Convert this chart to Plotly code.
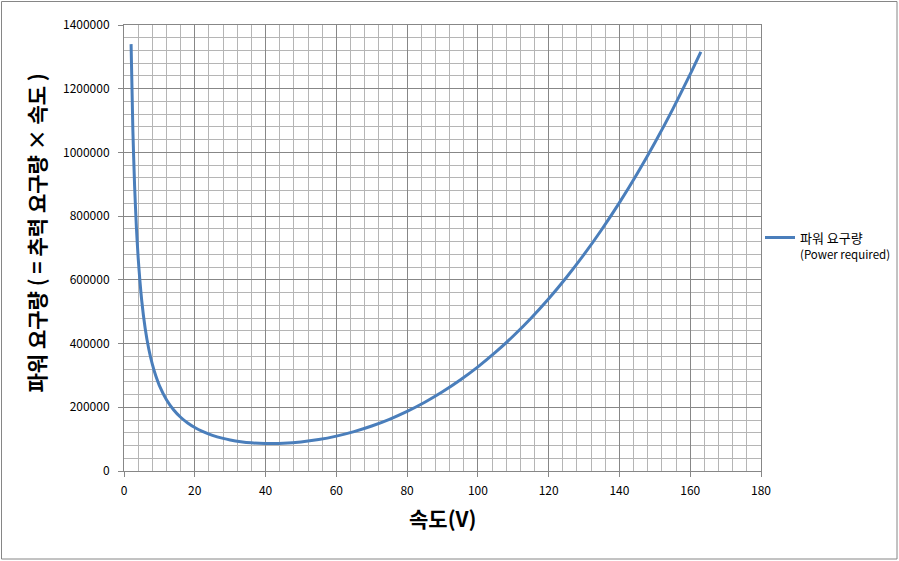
import plotly.graph_objects as go

# Data
speed = [2, 2.5, 3, 3.5, 4, 5, 6, 7, 8, 9, 10, 12, 14, 16, 18, 20, 22, 25, 28, 30,
         33, 36, 40, 42, 45, 50, 55, 60, 65, 70, 75, 80, 85, 90, 95, 100, 105, 110,
         115, 120, 125, 130, 135, 140, 145, 150, 155, 160, 163]
power = [1340000, 1072000, 893300, 765700, 670000, 536000, 446700, 383000, 335200,
         298000, 268300, 223900, 192300, 168700, 150600, 136400, 125000, 111900,
         102300, 97400, 92000, 88400, 86200, 86000, 86900, 91100, 98600, 109500,
         123600, 141200, 162300, 187100, 215800, 248500, 285400, 326800, 372800,
         423700, 479600, 540700, 607400, 679700, 758000, 842300, 933100, 1030400,
         1134500, 1245600, 1315700]

x_ticks = [0, 20, 40, 60, 80, 100, 120, 140, 160, 180]
y_ticks = [0, 200000, 400000, 600000, 800000, 1000000, 1200000, 1400000]

series_name = "파워 요구량<br><span style='font-size:11.5px'>(Power required)</span>"
x_title = "속도(V)"
y_title = "파워 요구량 ( = 추력 요구량 × 속도 )"

FONT = "Noto Sans CJK KR"
MAJOR = "#878787"
MINOR = "#b5b5b5"

L, R, T, B = 124, 761, 25, 471
PW, PH = R - L, B - T

fig = go.Figure()
fig.add_trace(go.Scatter(
    x=speed, y=power, mode="lines", name=series_name,
    line=dict(color="#4a7ebb", width=3, shape="spline", smoothing=0.6),
    showlegend=True,
))

fig.update_layout(
    width=899, height=561, autosize=False,
    margin=dict(l=L, r=899 - R, t=T, b=561 - B, pad=0, autoexpand=False),
    paper_bgcolor="white", plot_bgcolor="white",
    font=dict(family=FONT, size=12, color="black"),
    showlegend=True,
    legend=dict(x=(760 - L) / PW, y=0.5045, xanchor="left", yanchor="middle",
                font=dict(family=FONT, size=13, color="black"),
                itemwidth=30, valign="top", bgcolor="rgba(0,0,0,0)",
                tracegroupgap=0),
    xaxis=dict(
        range=[0, 180], tickvals=x_ticks, ticktext=[str(v) for v in x_ticks],
        showgrid=True, gridcolor=MAJOR, gridwidth=1,
        minor=dict(dtick=4, showgrid=True, gridcolor=MINOR, gridwidth=1, ticks=""),
        showline=True, linecolor=MAJOR, linewidth=1, mirror=True,
        ticks="outside", ticklen=5, tickcolor=MAJOR,
        zeroline=False, ticklabelstandoff=4,
        tickfont=dict(family=FONT, size=12, color="black"),
    ),
    yaxis=dict(
        range=[0, 1400000], tickvals=y_ticks, ticktext=[str(v) for v in y_ticks],
        showgrid=True, gridcolor=MAJOR, gridwidth=1,
        minor=dict(dtick=40000, showgrid=True, gridcolor=MINOR, gridwidth=1, ticks=""),
        showline=True, linecolor=MAJOR, linewidth=1, mirror=True,
        ticks="outside", ticklen=5, tickcolor=MAJOR,
        zeroline=False, ticklabelstandoff=6,
        tickfont=dict(family=FONT, size=12, color="black"),
    ),
)

# axis titles
fig.add_annotation(text=x_title, xref="paper", yref="paper",
                   x=(443 - L) / PW, y=(B - 518) / PH, showarrow=False,
                   xanchor="center", yanchor="middle",
                   font=dict(family=FONT, size=21, color="black", weight="bold"))
fig.add_annotation(text=y_title, xref="paper", yref="paper",
                   x=(36 - L) / PW, y=(B - 233.5) / PH, showarrow=False,
                   textangle=-90, xanchor="center", yanchor="middle",
                   font=dict(family=FONT, size=21, color="black", weight="bold"))

# outer chart border
fig.add_shape(type="rect", xref="paper", yref="paper",
              x0=(1.5 - L) / PW, x1=(897 - L) / PW,
              y0=(B - 559) / PH, y1=(B - 1.5) / PH,
              line=dict(color="#868686", width=1), layer="below")

fig.write_html("out.html",
               config={"responsive": False, "displayModeBar": False},
               post_script="document.body.style.margin='0';document.body.style.padding='0';")
